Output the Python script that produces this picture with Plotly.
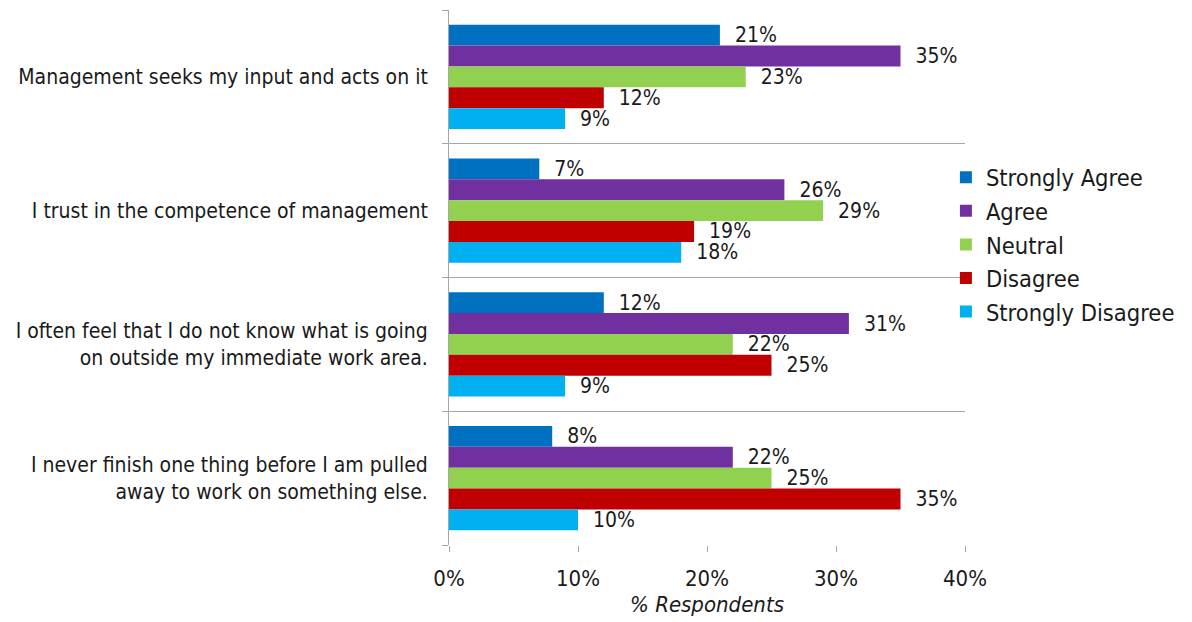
import plotly.graph_objects as go

questions = [
    "Management seeks my input and acts on it",
    "I trust in the competence of management",
    "I often feel that I do not know what is going<br>on outside my immediate work area.",
    "I never finish one thing before I am pulled<br>away to work on something else.",
]
series_names = ["Strongly Agree", "Agree", "Neutral", "Disagree", "Strongly Disagree"]
strongly_agree = [21, 7, 12, 8]
agree = [35, 26, 31, 22]
neutral = [23, 29, 22, 25]
disagree = [12, 19, 25, 35]
strongly_disagree = [9, 18, 9, 10]
colors = ["#0070C0", "#7030A0", "#92D050", "#C00000", "#00B0F0"]
x_ticks = [0, 10, 20, 30, 40]

FONT = "Liberation Sans Narrow, Arial Narrow, DejaVu Sans Condensed, sans-serif"

fig = go.Figure()
positions = list(range(len(questions)))
for name, vals, col in zip(series_names,
                           [strongly_agree, agree, neutral, disagree, strongly_disagree],
                           colors):
    fig.add_trace(go.Bar(
        y=positions, x=[v / 100 for v in vals], name=name, orientation="h",
        marker=dict(color=col, line=dict(width=0)),
        text=[f"\u00a0\u00a0{v}%" for v in vals], textposition="outside",
        textfont=dict(size=21, color="#1a1a1a", family=FONT),
        constraintext="none", cliponaxis=False,
    ))

fig.update_layout(
    width=1192, height=622,
    margin=dict(l=441, r=235, t=2, b=85),
    barmode="group", bargap=0.22, bargroupgap=0,
    plot_bgcolor="white", paper_bgcolor="white",
    font=dict(family=FONT, size=21, color="#1a1a1a"),
    showlegend=True,
    legend=dict(x=0.963, y=0.728, xanchor="left", yanchor="top",
                font=dict(size=23.5, family=FONT), traceorder="normal",
                itemwidth=30, tracegroupgap=0, bgcolor="rgba(0,0,0,0)"),
    xaxis=dict(range=[0, 0.4], tickvals=[t / 100 for t in x_ticks],
               ticktext=[f"{t}%" for t in x_ticks],
               showgrid=False, zeroline=False, showline=False,
               ticks="outside", ticklen=6, tickcolor="#A6A6A6",
               ticklabelstandoff=8,
               tickfont=dict(size=22),
               title=dict(text="<i>% Respondents</i>", font=dict(size=22), standoff=6)),
    yaxis=dict(range=[3.5, -0.5], tickvals=positions, ticktext=questions,
               showgrid=False, zeroline=False,
               showline=True, linecolor="#A6A6A6", linewidth=1,
               ticks="", ticklabelstandoff=16,
               tickfont=dict(size=21),
               minor=dict(tick0=0.5, dtick=1, showgrid=True, gridcolor="#A6A6A6",
                          gridwidth=1, ticks="outside", ticklen=6, tickcolor="#A6A6A6")),
)

fig.write_html("out.html")
